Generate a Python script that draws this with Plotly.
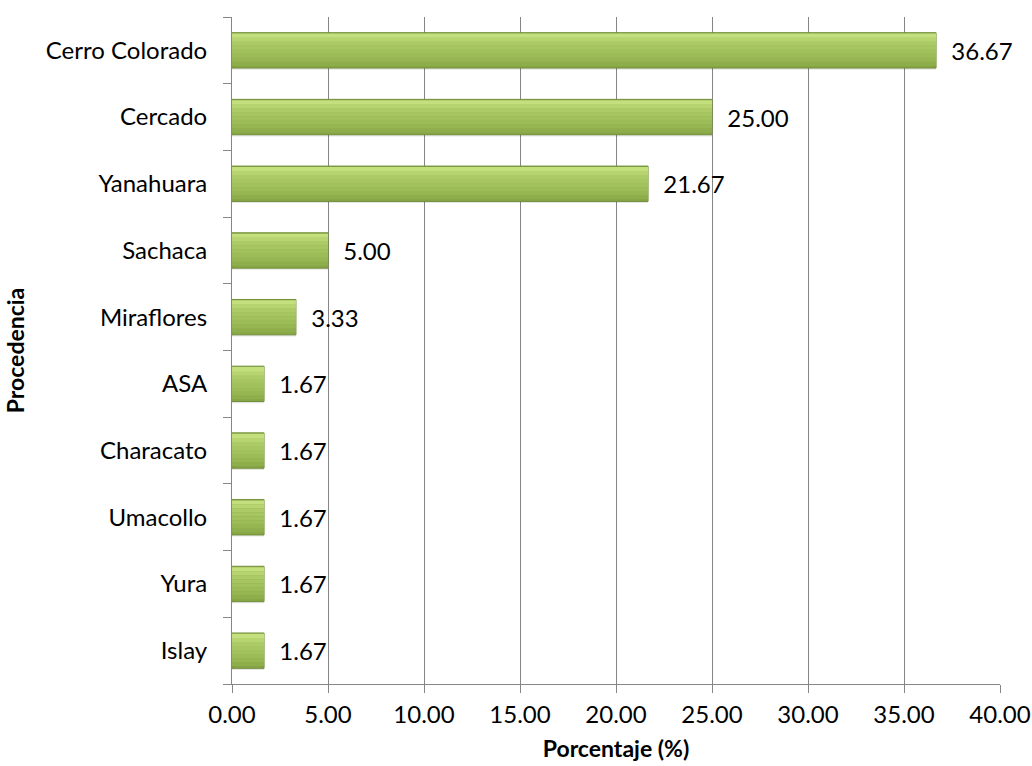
import plotly.graph_objects as go

categories = ["Cerro Colorado", "Cercado", "Yanahuara", "Sachaca", "Miraflores",
              "ASA", "Characato", "Umacollo", "Yura", "Islay"]
values = [36.67, 25.00, 21.67, 5.00, 3.33, 1.67, 1.67, 1.67, 1.67, 1.67]
x_ticks = [0, 5, 10, 15, 20, 25, 30, 35, 40]

FONT = "Lato"
FS = 24
BAR_W = 0.53

fig = go.Figure()
# soft shadow
fig.add_trace(go.Bar(
    y=categories, x=values, orientation="h",
    width=BAR_W, offset=-0.29,
    marker=dict(color="rgba(0,0,0,0.10)", line=dict(width=0)),
    hoverinfo="skip",
))
# base bar (with outline and value labels)
fig.add_trace(go.Bar(
    y=categories, x=values, orientation="h",
    width=BAR_W, offset=-BAR_W / 2,
    marker=dict(color="#86a546", line=dict(color="#74903a", width=1)),
    text=[f"\u00a0\u00a0{v:.2f}" for v in values],
    textposition="outside",
    textfont=dict(family=FONT, size=FS, color="#000000"),
    cliponaxis=False,
))
# vertical gradient bands (bottom -> top)
band_colors = ["#8eae4b", "#96b652", "#9cbc58", "#a1c15c", "#a6c661", "#acca66", "#b6d46f", "#c4e07e"]
n = len(band_colors)
inner = BAR_W - 0.05
bw = inner / n
for i, c in enumerate(band_colors):
    fig.add_trace(go.Bar(
        y=categories, x=values, orientation="h",
        width=bw + 0.002, offset=-inner / 2 + i * bw + 0.01,
        marker=dict(color=c, line=dict(width=0)),
        hoverinfo="skip",
    ))

fig.update_layout(
    width=1032, height=766,
    margin=dict(l=232, r=32, t=17, b=82),
    paper_bgcolor="white", plot_bgcolor="white",
    showlegend=False,
    barmode="overlay",
    font=dict(family=FONT, size=FS, color="#000000"),
    xaxis=dict(
        range=[0, 40], tickvals=x_ticks,
        ticktext=[f"{t:.2f}" for t in x_ticks],
        showgrid=True, gridcolor="#868686", gridwidth=1,
        zeroline=False, showline=True, linecolor="#868686",
        ticks="outside", ticklen=8, tickcolor="#868686",
        tickfont=dict(family=FONT, size=FS),
        ticklabelstandoff=1,
        automargin=False,
        title=dict(text="<b>Porcentaje (%)</b>", font=dict(family=FONT, size=23), standoff=14),
    ),
    yaxis=dict(
        categoryorder="array", categoryarray=categories[::-1],
        showgrid=False, showline=True, linecolor="#868686",
        ticks="outside", ticklen=8, tickcolor="#868686", tickson="boundaries",
        tickfont=dict(family=FONT, size=FS),
        ticklabelstandoff=19,
        automargin=False,
        title=dict(text="<b>Procedencia</b>", font=dict(family=FONT, size=23), standoff=14),
    ),
)

fig.write_html("out.html")
